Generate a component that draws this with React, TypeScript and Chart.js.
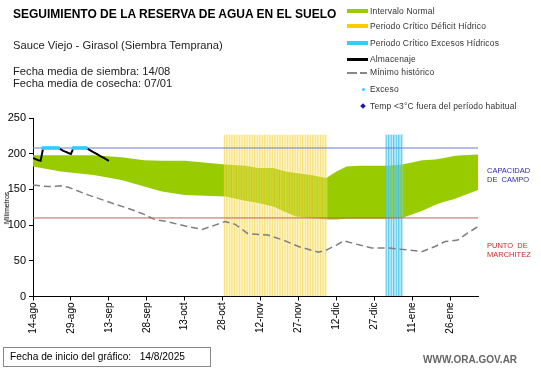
import React, { useEffect, useRef } from "react";
import { Chart, registerables } from "chart.js";
Chart.register(...registerables);

// x axis: day index counted from 14-ago
const axisMaxDay = 176;
const tickDays = [0, 15, 30, 45, 60, 75, 90, 105, 120, 135, 150, 165];
const tickLabels = ["14-ago", "29-ago", "13-sep", "28-sep", "13-oct", "28-oct", "12-nov", "27-nov", "12-dic", "27-dic", "11-ene", "26-ene"];
const yTicks = [0, 50, 100, 150, 200, 250];

// Intervalo normal (band)
const bandDays = [0, 11, 24, 35, 44, 51, 60, 76, 84, 89, 95, 100, 104, 110, 116, 120, 124, 129, 140, 146, 154, 159, 162, 167, 170, 176];
const bandUpper = [198, 198, 198, 195, 191, 190, 190, 185, 183, 180, 180, 175, 173, 170, 166, 175, 182, 183, 183, 185, 191, 192, 193.5, 197, 198, 199];
const bandLower = [182, 175, 170, 163, 154, 147, 142, 140, 134, 131, 126, 118, 112, 110, 108, 108, 109, 109, 109, 110, 120, 128, 132, 137, 141, 149];

// Mínimo histórico
const minDays = [0, 6, 11, 14, 22, 27, 32, 38, 44, 48, 53, 61, 67, 72, 76, 80, 85, 93, 99, 105, 113, 116, 120, 123, 127, 134, 140, 146, 154, 159, 163, 168, 172, 176];
const minValues = [156, 154, 155, 153, 142, 136, 130, 123, 115, 108, 105, 98, 94, 100, 105, 101, 88, 86, 79, 70, 62, 65, 72, 78, 74, 68, 68, 66, 63, 70, 77, 79, 89, 98];

// Almacenaje (daily, 14-ago .. 13-sep)
const storageDays = [0, 1, 2, 3, 4, 5, 6, 7, 8, 9, 10, 11, 12, 13, 14, 15, 16, 17, 18, 19, 20, 21, 22, 23, 24, 25, 26, 27, 28, 29, 30];
const storageValues = [194, 192.5, 191, 190, 207.5, 208, 208, 208, 208, 208, 208, 206, 204, 202.5, 201, 199.5, 208, 208, 208, 208, 208, 208, 206, 204, 202, 200, 198, 196, 194, 192, 190];

// Exceso points
const excessDays = [4, 5, 6, 7, 8, 9, 10, 16, 17, 18, 19, 20, 21];
const excessValues = [208, 208, 208, 208, 208, 208, 208, 208, 208, 208, 208, 208, 208];

// Critical periods (days) and bar height
const deficitPeriod = [76, 116];
const excessPeriod = [140, 146];
const periodBarTop = 227;

const fieldCapacity = 208;
const wiltingPoint = 110;

const FONT = "'Liberation Sans', Arial, sans-serif";

function periodData(p: number[]) {
  const out: { x: number; y: number }[] = [];
  for (let d = p[0]; d <= p[1]; d++) out.push({ x: d, y: periodBarTop });
  return out;
}

export default function App() {
  const ref = useRef<HTMLCanvasElement | null>(null);
  useEffect(() => {
    if (!ref.current) return;
    Chart.defaults.font.family = FONT;
    const chart = new Chart(ref.current, {
      type: "line",
      data: {
        datasets: [
          {
            label: "lower",
            data: bandDays.map((d, i) => ({ x: d, y: bandLower[i] })),
            borderWidth: 0,
            pointRadius: 0,
            borderColor: "rgba(0,0,0,0)",
            fill: false,
            order: 9,
          },
          {
            label: "Intervalo Normal",
            data: bandDays.map((d, i) => ({ x: d, y: bandUpper[i] })),
            borderWidth: 0,
            pointRadius: 0,
            borderColor: "rgba(0,0,0,0)",
            backgroundColor: "#99CC00",
            fill: "-1",
            order: 8,
          },
          {
            type: "bar",
            label: "Periodo Crítico Déficit Hídrico",
            data: periodData(deficitPeriod),
            backgroundColor: "rgba(255,232,120,0.40)",
            borderColor: "rgba(235,200,40,0.55)",
            borderWidth: { left: 0.8, right: 0, top: 0, bottom: 0 },
            borderSkipped: false,
            barPercentage: 1,
            categoryPercentage: 1,
            grouped: false,
            order: 7,
          } as any,
          {
            type: "bar",
            label: "Periodo Crítico Excesos Hídricos",
            data: periodData(excessPeriod),
            backgroundColor: "rgba(120,215,240,0.45)",
            borderColor: "rgba(60,190,230,0.8)",
            borderWidth: { left: 0.8, right: 0, top: 0, bottom: 0 },
            borderSkipped: false,
            barPercentage: 1,
            categoryPercentage: 1,
            grouped: false,
            order: 6,
          } as any,
          {
            label: "Mínimo histórico",
            data: minDays.map((d, i) => ({ x: d, y: minValues[i] })),
            borderColor: "#7f7f7f",
            borderWidth: 1.5,
            borderDash: [7, 4],
            pointRadius: 0,
            fill: false,
            order: 5,
          },
          {
            label: "PMP",
            data: [{ x: 0, y: wiltingPoint }, { x: axisMaxDay, y: wiltingPoint }],
            borderColor: "#C06060",
            borderWidth: 1,
            pointRadius: 0,
            fill: false,
            order: 4,
          },
          {
            label: "CC",
            data: [{ x: 0, y: fieldCapacity }, { x: axisMaxDay, y: fieldCapacity }],
            borderColor: "#6A7BD6",
            borderWidth: 1,
            pointRadius: 0,
            fill: false,
            order: 3,
          },
          {
            label: "Almacenaje",
            data: storageDays.map((d, i) => ({ x: d, y: storageValues[i] })),
            borderColor: "#000000",
            borderWidth: 2,
            pointRadius: 0,
            fill: false,
            order: 2,
          },
          {
            label: "Exceso",
            data: excessDays.map((d, i) => ({ x: d, y: excessValues[i] })),
            showLine: false,
            pointRadius: 2,
            pointBorderWidth: 0,
            pointBackgroundColor: "#33CCFF",
            pointBorderColor: "#33CCFF",
            order: 1,
          },
        ],
      },
      options: {
        animation: false,
        responsive: false,
        devicePixelRatio: 1,
        layout: { padding: { left: 0, right: 63, top: 118, bottom: 0 } },
        plugins: { legend: { display: false }, tooltip: { enabled: false } },
        scales: {
          x: {
            type: "linear",
            min: 0,
            max: axisMaxDay,
            offset: false,
            afterBuildTicks: (scale: any) => {
              scale.ticks = tickDays.map((v) => ({ value: v }));
            },
            afterFit: (scale: any) => {
              scale.height = 71.5;
            },
            ticks: {
              autoSkip: false,
              minRotation: 90,
              maxRotation: 90,
              padding: 2,
              color: "#000",
              font: { size: 10, family: FONT },
              callback: (v: any) => tickLabels[tickDays.indexOf(Number(v))] ?? "",
            },
            grid: { display: true, offset: false, drawOnChartArea: false, drawTicks: true, tickLength: 4, color: "#000" },
            border: { display: true, color: "#000", width: 1 },
          },
          y: {
            type: "linear",
            min: 0,
            max: 250,
            afterBuildTicks: (scale: any) => {
              scale.ticks = yTicks.map((v) => ({ value: v }));
            },
            afterFit: (scale: any) => {
              scale.width = 33;
            },
            ticks: {
              padding: 3,
              color: "#000",
              font: { size: 11, family: FONT },
            },
            grid: { display: true, drawOnChartArea: false, drawTicks: true, tickLength: 4, color: "#000" },
            border: { display: true, color: "#000", width: 1 },
          },
        },
      },
    });
    return () => chart.destroy();
  }, []);

  const abs = (s: React.CSSProperties): React.CSSProperties => ({ position: "absolute", whiteSpace: "nowrap", ...s });
  const legText: React.CSSProperties = { fontSize: 8.5, letterSpacing: 0.15, color: "#333", fontFamily: FONT, lineHeight: "10px" };

  return (
    <div style={{ position: "absolute", left: 0, top: 0, width: 541, height: 368, background: "#fff", fontFamily: FONT, overflow: "hidden" }}>
      <canvas ref={ref} width={541} height={368} style={{ position: "absolute", left: 0, top: 0 }} />
      <div style={abs({ left: 13, top: 7, fontSize: 12, fontWeight: "bold", color: "#000", lineHeight: "14px" })}>
        SEGUIMIENTO DE LA RESERVA DE AGUA EN EL SUELO
      </div>
      <div style={abs({ left: 13, top: 38, fontSize: 11.2, color: "#222", lineHeight: "14px" })}>
        Sauce Viejo - Girasol (Siembra Temprana)
      </div>
      <div style={abs({ left: 13, top: 65, fontSize: 11.2, color: "#222", lineHeight: "12px" })}>
        Fecha media de siembra: 14/08
        <br />
        Fecha media de cosecha: 07/01
      </div>

      {/* legend */}
      <div style={abs({ left: 347, top: 9, width: 21, height: 4, background: "#99CC00" })} />
      <div style={abs({ left: 370, top: 6, ...legText })}>Intervalo Normal</div>
      <div style={abs({ left: 347, top: 24, width: 21, height: 4, background: "#FFCC00" })} />
      <div style={abs({ left: 370, top: 21, ...legText })}>Periodo Crítico Déficit Hídrico</div>
      <div style={abs({ left: 347, top: 41, width: 21, height: 4, background: "#33CCFF" })} />
      <div style={abs({ left: 370, top: 38, ...legText })}>Periodo Crítico Excesos Hídricos</div>
      <div style={abs({ left: 347, top: 58, width: 21, height: 2.5, background: "#000" })} />
      <div style={abs({ left: 370, top: 54, ...legText })}>Almacenaje</div>
      <div style={abs({ left: 347, top: 72, width: 10, height: 1.5, background: "#888" })} />
      <div style={abs({ left: 360, top: 72, width: 7, height: 1.5, background: "#888" })} />
      <div style={abs({ left: 370, top: 67, ...legText })}>Mínimo histórico</div>
      <div style={abs({ left: 362, top: 88, width: 3, height: 3, borderRadius: 2, background: "#33CCFF" })} />
      <div style={abs({ left: 370, top: 84, ...legText })}>Exceso</div>
      <div style={abs({ left: 361, top: 104, width: 4, height: 4, background: "#1a1aa8", transform: "rotate(45deg)" })} />
      <div style={abs({ left: 370, top: 101, ...legText })}>Temp &lt;3°C fuera del período habitual</div>

      {/* y axis title */}
      <div style={abs({ left: 7, top: 208, fontSize: 7, color: "#000", transform: "translate(-50%,-50%) rotate(-90deg)", lineHeight: "8px" })}>
        Milímetros
      </div>

      {/* right labels */}
      <div style={abs({ left: 487, top: 167, fontSize: 7.5, color: "#2a2aa8", lineHeight: "8.5px" })}>
        CAPACIDAD
        <br />
        DE&nbsp; CAMPO
      </div>
      <div style={abs({ left: 487, top: 242, fontSize: 7.5, color: "#cc2a2a", lineHeight: "8.5px" })}>
        PUNTO&nbsp; DE
        <br />
        MARCHITEZ
      </div>

      {/* bottom box */}
      <div style={abs({ left: 3, top: 347, width: 206, height: 18, border: "1px solid #888", background: "#fff" })} />
      <div style={abs({ left: 10, top: 350, fontSize: 10.2, color: "#000", lineHeight: "13px" })}>
        Fecha de inicio del gráfico:&nbsp;&nbsp; 14/8/2025
      </div>
      <div style={abs({ left: 423, top: 354, fontSize: 10, fontWeight: "bold", color: "#666", lineHeight: "12px" })}>
        WWW.ORA.GOV.AR
      </div>
    </div>
  );
}
